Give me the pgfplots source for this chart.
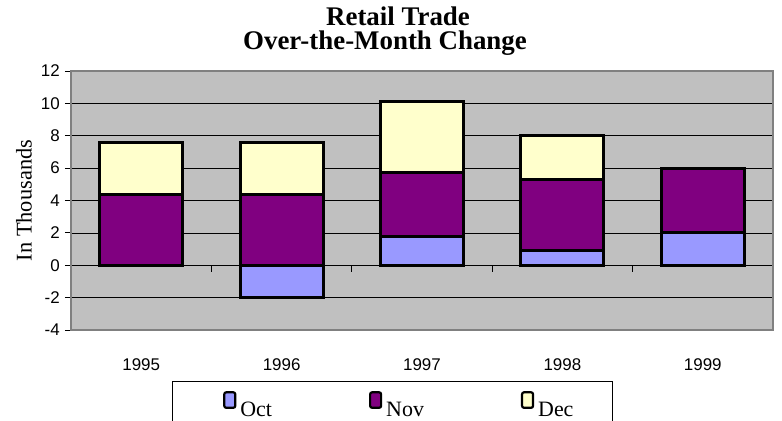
\documentclass[border=0pt]{standalone}
\usepackage{pgfplots}
\pgfplotsset{compat=1.18}
\usepackage{pgfplotstable}
\usepackage{fontspec}
\setmainfont{Liberation Serif}
\newfontfamily\arialf{Liberation Sans}
\definecolor{octc}{HTML}{9999FF}
\definecolor{novc}{HTML}{800080}
\definecolor{decc}{HTML}{FFFFCC}
\definecolor{plotbg}{HTML}{C0C0C0}
\definecolor{bordc}{HTML}{808080}

\pgfplotstableread{
x oct nov dec
0.5 0 4.4 3.2
1.5 0 4.4 3.2
2.5 1.8 3.95 4.35
3.5 0.9 4.4 2.7
4.5 2.0 4.0 0
}\stacked

\pgfplotstableread{
x oct
1.5 -2
}\negoct

\begin{document}
\begin{tikzpicture}
\fill[white] (0,0) rectangle (782bp,-421bp);
\draw[black, line width=0.8bp, fill=white] (172bp,-381bp) rectangle (612bp,-440bp);
\begin{axis}[
  at={(71bp,-71bp)}, anchor=north west,
  width=702bp, height=259bp, scale only axis,
  xmin=0, xmax=5, ymin=-4, ymax=12,
  clip=false,
  axis background/.style={fill=plotbg},
  axis line style={draw=none},
  ybar stacked, bar width=83bp,
  xtick={0.5,1.5,2.5,3.5,4.5},
  xticklabels={1995,1996,1997,1998,1999},
  ytick={-4,-2,0,2,4,6,8,10,12},
  yticklabels={-4,-2,0,2,4,6,8,10,12},
  ymajorgrids, grid style={black, line width=0.7bp},
  tick align=outside, major tick length=6bp,
  xtick style={draw=none},
  ytick style={black, line width=0.8bp},
  ytick pos=left,
  ticklabel style={font=\arialf\fontsize{17}{17}\selectfont},
  yticklabel style={inner sep=0pt, xshift=-5bp},
  xticklabel style={inner sep=0pt, anchor=north, yshift=-22bp},
  ylabel={In Thousands},
  ylabel style={font=\fontsize{22.5}{22.5}\selectfont, at={(axis description cs:-0.056,0.5)}, anchor=base, inner sep=0pt},
  title={\hspace*{26bp}Retail Trade\\Over-the-Month Change},
  title style={font=\bfseries\fontsize{27}{24}\selectfont, align=center, at={(axis description cs:0.4473,1.226)}, anchor=north, inner sep=0pt},
  legend columns=3,
  legend style={at={(axis description cs:0.2165,-0.2355)}, anchor=north west, draw=none, fill=none, inner sep=0pt,
    nodes={inner sep=0pt, font=\fontsize{22}{22}\selectfont},
    /tikz/every odd column/.append style={column sep=4bp},
    /tikz/every even column/.append style={column sep=97bp}},
]
\addplot[fill=octc, draw=black, line width=3bp,
  legend image code/.code={\draw[fill=octc, draw=black, line width=2.2bp, rounded corners=2bp] (0bp,2.5bp) rectangle (11bp,18bp);}]
  table[x=x, y=oct] {\stacked};
\addlegendentry{Oct}
\addplot[fill=novc, draw=black, line width=3bp,
  legend image code/.code={\draw[fill=novc, draw=black, line width=2.2bp, rounded corners=2bp] (0bp,2.5bp) rectangle (11bp,18bp);}]
  table[x=x, y=nov] {\stacked};
\addlegendentry{Nov}
\addplot[fill=decc, draw=black, line width=3bp,
  legend image code/.code={\draw[fill=decc, draw=black, line width=2.2bp, rounded corners=2bp] (0bp,2.5bp) rectangle (11bp,18bp);}]
  table[x=x, y=dec] {\stacked};
\addlegendentry{Dec}
\draw[bordc, line width=2bp] (rel axis cs:0,0) rectangle (rel axis cs:1,1);
\draw[black, line width=1bp] (rel axis cs:0,0) -- (rel axis cs:0,1);
\draw[black, line width=1bp] (axis cs:0,0) -- (axis cs:5,0);
\pgfplotsinvokeforeach{1,...,5}{\draw[black, line width=1bp] (axis cs:#1,0) -- ([yshift=-7bp]axis cs:#1,0);}
\end{axis}
\begin{axis}[
  at={(71bp,-71bp)}, anchor=north west,
  width=702bp, height=259bp, scale only axis,
  xmin=0, xmax=5, ymin=-4, ymax=12,
  hide axis, ybar, bar width=83bp,
]
\addplot[fill=octc, draw=black, line width=3bp] table[x=x, y=oct] {\negoct};
\end{axis}
\pgfresetboundingbox
\useasboundingbox (0,0) rectangle (782bp,-421bp);
\end{tikzpicture}
\end{document}
